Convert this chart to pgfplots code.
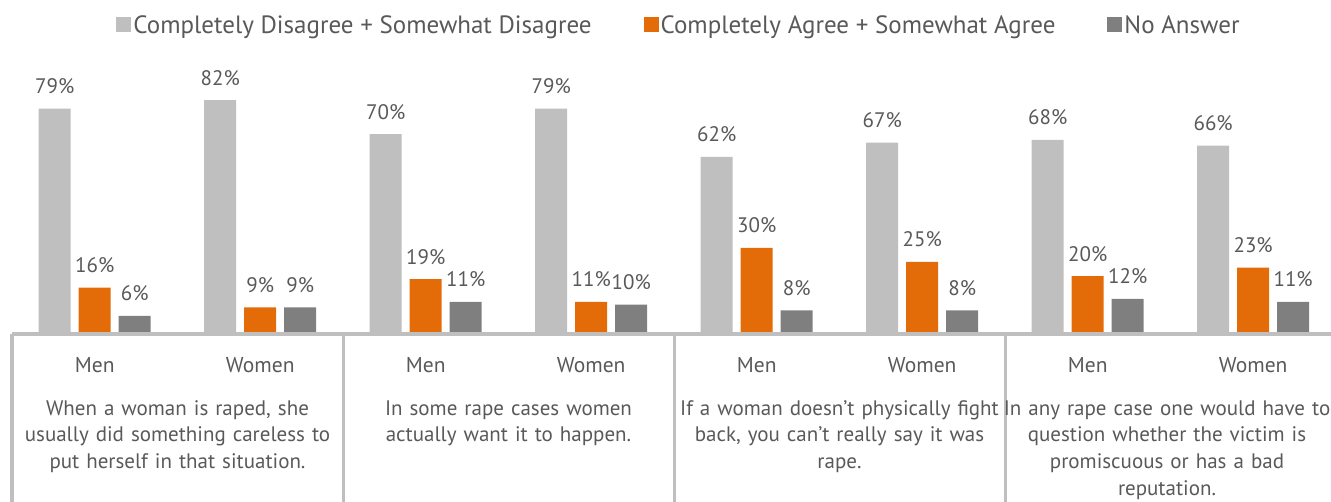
\documentclass[border=0pt]{standalone}
\usepackage{pgfplots}
\pgfplotsset{compat=1.18}
\usepackage{fontspec}
\setmainfont{PT Sans}
\definecolor{lgray}{HTML}{BFBFBF}
\definecolor{myorange}{HTML}{E36C09}
\definecolor{dgray}{HTML}{7F7F7F}
\definecolor{txt}{HTML}{595959}
\newcommand{\chartfont}{\fontsize{21.5bp}{26.7bp}\selectfont}
\newcommand{\stmtfont}{\fontsize{21bp}{26.7bp}\selectfont}
\newcommand{\labfont}{\fontsize{21bp}{26bp}\selectfont}
\newcommand{\legfont}{\fontsize{25bp}{30bp}\selectfont}
\begin{document}
\begin{tikzpicture}
\begin{axis}[
  at={(0,0)}, anchor=south west,
  scale only axis, width=1324bp, height=284bp,
  xmin=-0.5, xmax=7.5, ymin=0, ymax=100,
  enlarge x limits=false, enlarge y limits=false,
  ybar, bar width=32bp,
  axis line style={draw=none},
  ytick=\empty,
  xtick={0,...,7},
  xticklabels={Men,Women,Men,Women,Men,Women,Men,Women},
  xtick style={draw=none},
  major tick length=0pt,
  xticklabel style={anchor=base, yshift=-39bp, font=\chartfont, text=txt},
  clip=false,
  /pgf/number format/assume math mode=true,
  nodes near coords={\pgfmathprintnumber{\pgfplotspointmeta}\%},
  every node near coord/.append style={anchor=base, yshift=15bp, font=\labfont, text=txt},
  legend columns=3,
  legend style={draw=none, at={(0.5038,1.0845)}, anchor=center, font=\legfont, text=txt,
    nodes={inner sep=2bp},
    /tikz/every even column/.append style={column sep=50bp}},
  legend image code/.code={\fill[#1] (0bp,-7.5bp) rectangle (15bp,7.5bp);},
]
\addplot[fill=lgray, draw=none, bar shift=-40bp] coordinates {(0,79) (1,82) (2,70) (3,79) (4,62) (5,67) (6,68) (7,66)};
\addplot[fill=myorange, draw=none, bar shift=0bp] coordinates {(0,16) (1,9) (2,19) (3,11) (4,30) (5,25) (6,20) (7,23)};
\addplot[fill=dgray, draw=none, bar shift=40bp] coordinates {(0,6) (1,9) (2,11) (3,10) (4,8) (5,8) (6,12) (7,11)};
\legend{Completely Disagree + Somewhat Disagree, Completely Agree + Somewhat Agree, No Answer}
\end{axis}
\draw[lgray, line width=4bp] (0bp,-1bp) -- (1330bp,-1bp);
\foreach \xx in {0,331,662,993,1324} {\draw[lgray, line width=3bp] (\xx bp,-1bp) -- (\xx bp,-175bp);}
\tikzset{stmt/.style={anchor=base, text width=420bp, align=center, font=\stmtfont, text=txt, inner sep=0pt}}
\node[stmt] at (165.5bp,-82bp) {When a woman is raped, she\\usually did something careless to\\put herself in that situation.};
\node[stmt] at (496.5bp,-82bp) {In some rape cases women\\actually want it to happen.};
\node[stmt] at (827.5bp,-82bp) {If a woman doesn’t physically fight\\back, you can’t really say it was\\rape.};
\node[stmt] at (1155bp,-82bp) {In any rape case one would have to\\question whether the victim is\\promiscuous or has a bad\\reputation.};
\pgfresetboundingbox
\useasboundingbox (-12bp,-169bp) rectangle (1319bp,333bp);
\end{tikzpicture}
\end{document}
